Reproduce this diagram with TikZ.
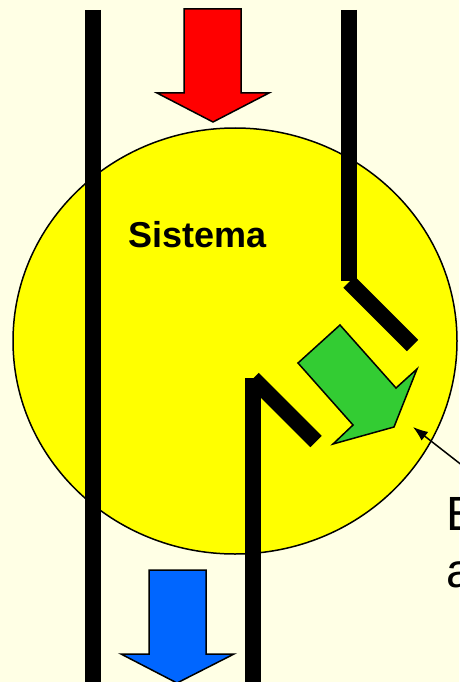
\documentclass[tikz,border=0pt]{standalone}
\usepackage{fontspec}
\setmainfont{Liberation Sans}
\usetikzlibrary{arrows.meta}
\definecolor{bgcream}{RGB}{255,255,229}
\definecolor{sysyellow}{RGB}{255,255,0}
\definecolor{inred}{RGB}{255,0,0}
\definecolor{outblue}{RGB}{0,102,255}
\definecolor{wgreen}{RGB}{51,204,51}
\begin{document}
\begin{tikzpicture}[x=1pt,y=-1pt,
  wall/.style={line width=16pt,black,line cap=butt},
  bigarrow/.style={draw=black,line width=1.5pt,line join=miter},
  label/.style={inner sep=0pt,outer sep=0pt,anchor=base west}]
\fill[bgcream] (0,0) rectangle (459,682);
\useasboundingbox (0,0) rectangle (459,682);
% system
\draw[fill=sysyellow,line width=1.5pt] (235,341) ellipse [x radius=222pt, y radius=213pt];
% walls
\draw[wall] (92.5,10) -- (92.5,695);
\draw[wall] (349,10) -- (349,281);
\draw[wall] (349,282) -- (412.5,345.5);
\draw[wall] (253,378) -- (253,695);
\draw[wall] (253,378.5) -- (316,441.5);
% red arrow (in)
\draw[bigarrow,fill=inred] (184,9) -- (241,9) -- (241,93) -- (269,93) -- (213,122) -- (157,93) -- (184,93) -- cycle;
% blue arrow (out)
\draw[bigarrow,fill=outblue] (149,570) -- (206,570) -- (206,654) -- (234,654) -- (177,683) -- (121,654) -- (149,654) -- cycle;
% green arrow (work)
\draw[bigarrow,fill=wgreen] (340,325) -- (298,363) -- (353,425) -- (333,444) -- (394,427) -- (417,369) -- (396,388) -- cycle;
% labels
\node[label,font=\bfseries\fontsize{36}{40}\selectfont] (sys) at (128,247) {Sistema};
\node[label,font=\fontsize{48}{57}\selectfont] (txtE) at (446,530) {E};
\node[label,font=\fontsize{48}{57}\selectfont] (txta) at (446,587) {a};
% annotation arrow
\coordinate (anntail) at (463,466);
\coordinate (anntip) at (413,427);
\draw[line width=1.5pt,-{Latex[length=15pt,width=11pt]}] (anntail) -- (anntip);
\end{tikzpicture}
\end{document}
